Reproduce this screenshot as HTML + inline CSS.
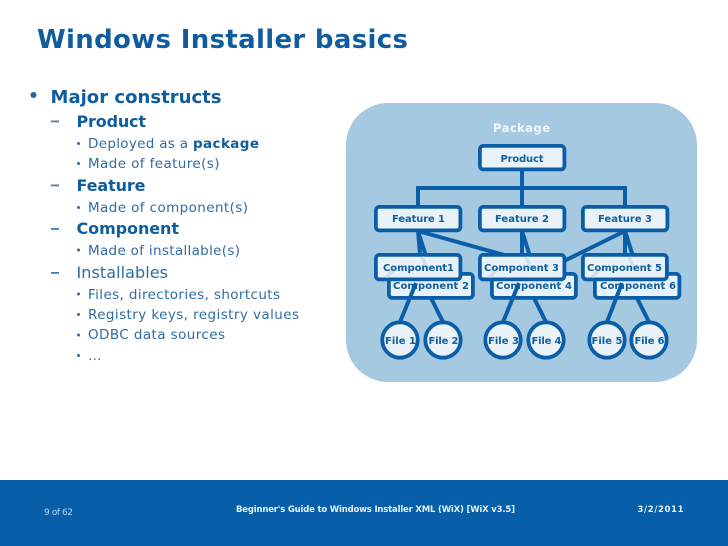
<!DOCTYPE html>
<html><head><meta charset="utf-8"><style>
html,body{margin:0;padding:0;background:#fff;width:728px;height:546px;overflow:hidden}
svg{display:block}
text{font-family:"DejaVu Sans","Liberation Sans",sans-serif}
.h{font-weight:bold;fill:#0f5c9e}
.s{fill:#2f6ca3;font-size:13.5px}
.d{font-weight:bold;fill:#10609f;font-size:10px}
.l{stroke:#0a5ea8;stroke-width:4;fill:none}
.f{stroke:#c9dcec;stroke-width:3.6;fill:none}
.b{fill:#e9f2f9;stroke:#0a5ea8;stroke-width:3.8}
</style></head><body>
<svg width="728" height="546" viewBox="0 0 728 546" xmlns="http://www.w3.org/2000/svg">
<rect width="728" height="546" fill="#fff"/>
<text x="37" y="48" class="h" font-size="26" textLength="371" lengthAdjust="spacing">Windows Installer basics</text>
<circle cx="33.5" cy="95" r="3" fill="#1c68a8"/>
<text x="50.5" y="103" class="h" font-size="18" textLength="171" lengthAdjust="spacing">Major constructs</text>
<rect x="51" y="120.5" width="8" height="1.8" fill="#3f7cb0"/>
<text x="76.5" y="127" class="h" font-size="16" textLength="69.5" lengthAdjust="spacing">Product</text>
<circle cx="78.5" cy="143.5" r="1.5" fill="#2f6ca3"/>
<text x="88" y="148" class="s" textLength="100" lengthAdjust="spacing">Deployed as a</text>
<text x="193" y="148" class="h" font-size="13.5" textLength="66" lengthAdjust="spacing">package</text>
<circle cx="78.5" cy="163.5" r="1.5" fill="#2f6ca3"/>
<text x="88" y="168" class="s" textLength="131.5" lengthAdjust="spacing">Made of feature(s)</text>
<rect x="51" y="184.5" width="8" height="1.8" fill="#3f7cb0"/>
<text x="76.5" y="191" class="h" font-size="16" textLength="69" lengthAdjust="spacing">Feature</text>
<circle cx="78.5" cy="207.5" r="1.5" fill="#2f6ca3"/>
<text x="88" y="212" class="s" textLength="160" lengthAdjust="spacing">Made of component(s)</text>
<rect x="51" y="228" width="8" height="1.8" fill="#3f7cb0"/>
<text x="76.5" y="234" class="h" font-size="16" textLength="102.5" lengthAdjust="spacing">Component</text>
<circle cx="78.5" cy="250" r="1.5" fill="#2f6ca3"/>
<text x="88" y="255" class="s" textLength="152" lengthAdjust="spacing">Made of installable(s)</text>
<rect x="51" y="272" width="8" height="1.8" fill="#3f7cb0"/>
<text x="76.5" y="278" fill="#2f6ca3" font-size="16" textLength="91.5" lengthAdjust="spacing">Installables</text>
<circle cx="78.5" cy="294" r="1.5" fill="#2f6ca3"/>
<text x="88" y="299" class="s" textLength="192" lengthAdjust="spacing">Files, directories, shortcuts</text>
<circle cx="78.5" cy="314.5" r="1.5" fill="#2f6ca3"/>
<text x="88" y="319" class="s" textLength="211" lengthAdjust="spacing">Registry keys, registry values</text>
<circle cx="78.5" cy="335" r="1.5" fill="#2f6ca3"/>
<text x="88" y="339" class="s" textLength="137" lengthAdjust="spacing">ODBC data sources</text>
<circle cx="78.5" cy="355.5" r="1.5" fill="#2f6ca3"/>
<text x="88" y="360" class="s" textLength="11" lengthAdjust="spacing">…</text>

<!-- diagram -->
<rect x="346" y="103" width="351" height="279" rx="42" ry="42" fill="#a6c9e2"/>
<text x="521.5" y="132" text-anchor="middle" font-weight="bold" fill="#f4f8fc" font-size="11.5" textLength="57" lengthAdjust="spacing">Package</text>

<path class="l" d="M522 170V206M418 206V188H625V206"/>
<path class="l" d="M418 231L420 254M418 231L431 272M418 231L522 260M522 231L522 254M522 231L535 272M625 231L625 254M625 231L638 272M625 231L562 262"/>

<!-- back row -->
<rect class="b" x="388.9" y="273.9" width="84" height="24" rx="3.5"/>
<rect class="b" x="491.9" y="273.9" width="84" height="24" rx="3.5"/>
<rect class="b" x="594.9" y="273.9" width="84.5" height="24" rx="3.5"/>
<text x="393" y="289" class="d" textLength="76" lengthAdjust="spacing">Component 2</text>
<text x="496" y="289" class="d" textLength="76" lengthAdjust="spacing">Component 4</text>
<text x="600" y="289" class="d" textLength="76" lengthAdjust="spacing">Component 6</text>

<path class="l" d="M416 283L400 322M431 298L443 322M519 283L503 322M534 298L546 322M622 283L607 322M637 298L649 322"/>

<!-- front row -->
<rect class="b" x="375.9" y="254.9" width="84.5" height="24.5" rx="3.5"/>
<rect class="b" x="479.9" y="254.9" width="84.5" height="24.5" rx="3.5"/>
<rect class="b" x="582.9" y="254.9" width="84" height="24.5" rx="3.5"/>
<path class="f" d="M422 257L428 270M526 257L532 270M629 257L635 270M386 277L396 268M489 277L499 268M592 277L602 268" stroke-opacity=".8"/>
<text x="383" y="271" class="d" textLength="71" lengthAdjust="spacing">Component1</text>
<text x="484" y="271" class="d" textLength="75" lengthAdjust="spacing">Component 3</text>
<text x="587" y="271" class="d" textLength="75" lengthAdjust="spacing">Component 5</text>

<!-- product & features -->
<rect class="b" x="479.9" y="145.9" width="84.5" height="23.5" rx="3.5"/>
<text x="522" y="162" text-anchor="middle" class="d" textLength="43" lengthAdjust="spacing">Product</text>
<rect class="b" x="375.9" y="206.9" width="84.5" height="23.5" rx="3.5"/>
<rect class="b" x="479.9" y="206.9" width="84.5" height="23.5" rx="3.5"/>
<rect class="b" x="582.9" y="206.9" width="84.5" height="23.5" rx="3.5"/>
<text x="392" y="222" class="d" textLength="53" lengthAdjust="spacing">Feature 1</text>
<text x="495" y="222" class="d" textLength="54" lengthAdjust="spacing">Feature 2</text>
<text x="598" y="222" class="d" textLength="54" lengthAdjust="spacing">Feature 3</text>

<!-- files -->
<circle class="b" cx="400" cy="340" r="17.7"/>
<circle class="b" cx="443" cy="340" r="17.7"/>
<circle class="b" cx="503" cy="340" r="17.7"/>
<circle class="b" cx="546" cy="340" r="17.7"/>
<circle class="b" cx="607" cy="340" r="17.7"/>
<circle class="b" cx="649" cy="340" r="17.7"/>
<text x="385" y="344" class="d" textLength="31" lengthAdjust="spacing">File 1</text>
<text x="428.5" y="344" class="d" textLength="30" lengthAdjust="spacing">File 2</text>
<text x="488" y="344" class="d" textLength="31" lengthAdjust="spacing">File 3</text>
<text x="531.5" y="344" class="d" textLength="30" lengthAdjust="spacing">File 4</text>
<text x="591.5" y="344" class="d" textLength="31" lengthAdjust="spacing">File 5</text>
<text x="634.5" y="344" class="d" textLength="30" lengthAdjust="spacing">File 6</text>

<!-- footer -->
<rect x="0" y="480" width="728" height="66" fill="#065fa8"/>
<text x="44" y="515" fill="#b9d3e8" font-size="9" textLength="29" lengthAdjust="spacing">9 of 62</text>
<text x="236" y="512" fill="#e6f0f8" font-weight="bold" font-size="8.5" textLength="279" lengthAdjust="spacing">Beginner's Guide to Windows Installer XML (WiX) [WiX v3.5]</text>
<text x="637.5" y="512" fill="#e6f0f8" font-weight="bold" font-size="8.5" textLength="46" lengthAdjust="spacing">3/2/2011</text>
</svg>
</body></html>
